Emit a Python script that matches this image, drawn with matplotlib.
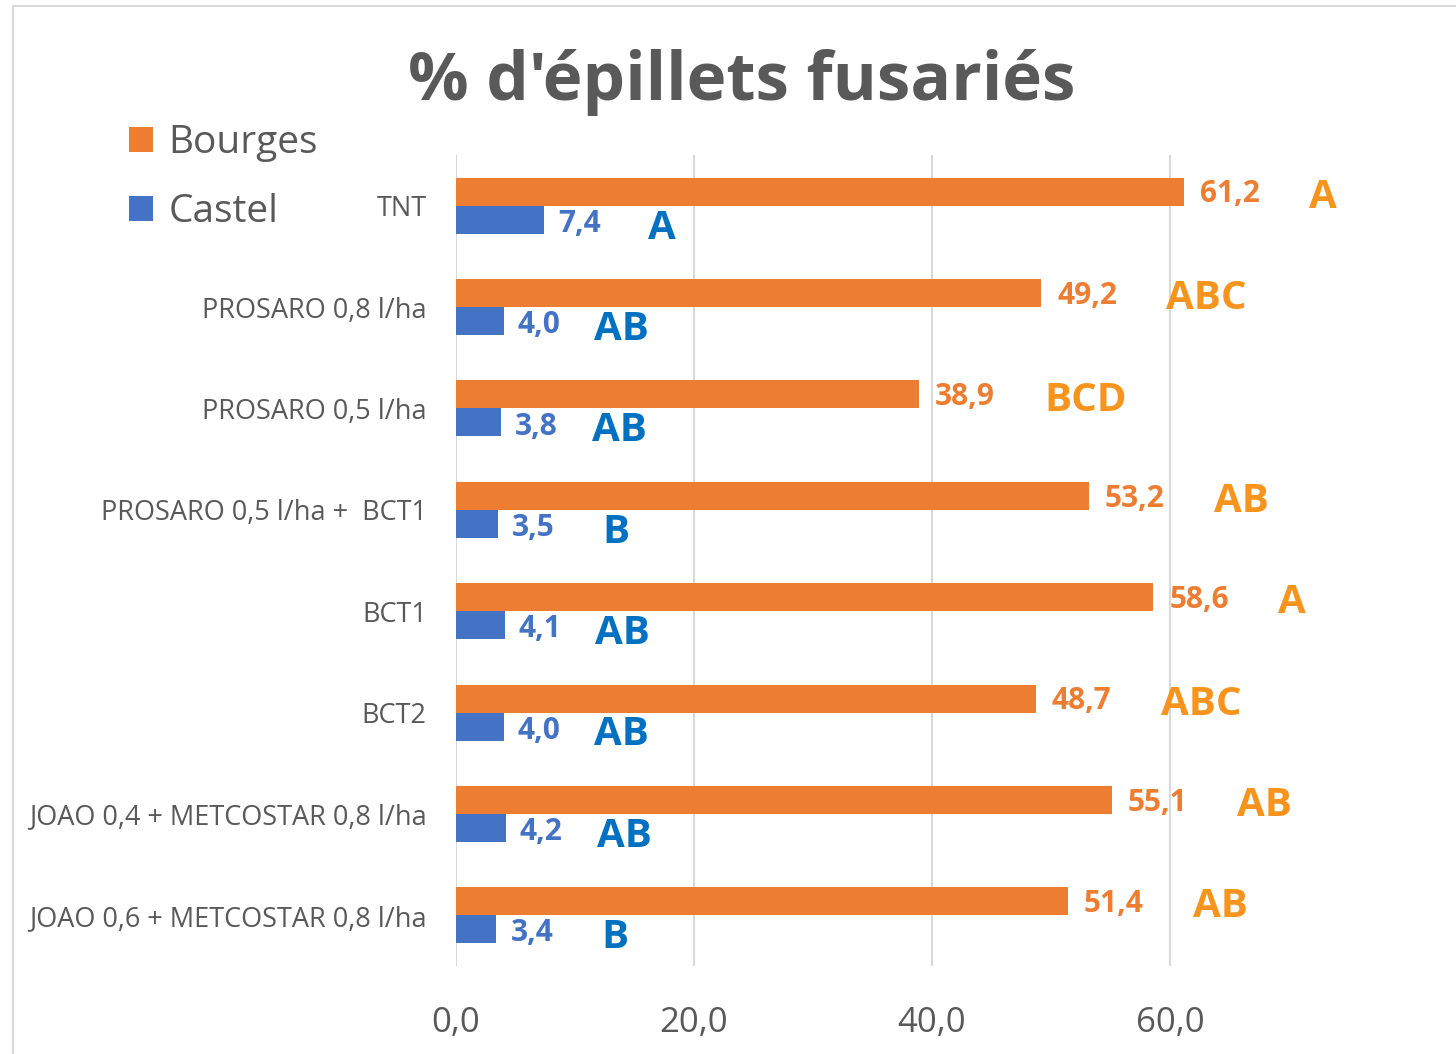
import matplotlib
matplotlib.use("Agg")
import matplotlib.pyplot as plt
from matplotlib.patches import Rectangle
import numpy as np

categories = ["TNT", "PROSARO 0,8 l/ha", "PROSARO 0,5 l/ha", "PROSARO 0,5 l/ha +  BCT1",
              "BCT1", "BCT2", "JOAO 0,4 + METCOSTAR 0,8 l/ha", "JOAO 0,6 + METCOSTAR 0,8 l/ha"]
bourges = [61.2, 49.2, 38.9, 53.2, 58.6, 48.7, 55.1, 51.4]
castel = [7.4, 4.0, 3.8, 3.5, 4.1, 4.0, 4.2, 3.4]
bourges_letters = ["A", "ABC", "BCD", "AB", "A", "ABC", "AB", "AB"]
castel_letters = ["A", "AB", "AB", "B", "AB", "AB", "AB", "B"]
xticks = [0, 20, 40, 60]

ORANGE = "#ED7D31"
BLUE = "#4472C4"
ORANGE_L = "#F7941D"
BLUE_L = "#0070C0"
GRAY = "#595959"

plt.rcParams['font.family'] = ['Open Sans', 'DejaVu Sans']

W, H = 1456, 1054
fig = plt.figure(figsize=(W / 100, H / 100), dpi=100)
ax = fig.add_axes([456 / W, 1 - 966 / H, (1408 - 456) / W, (966 - 155) / H])

y = np.arange(len(categories))
bh = 0.276
b1 = ax.barh(y - bh / 2, bourges, height=bh, color=ORANGE, label="Bourges", zorder=3)
b2 = ax.barh(y + bh / 2, castel, height=bh, color=BLUE, label="Castel", zorder=3)

ax.set_xlim(0, 80)
ax.set_ylim(len(categories) - 0.5, -0.5)
ax.set_xticks(xticks)
ax.set_xticklabels([f"{v:.1f}".replace(".", ",") for v in xticks])
ax.set_yticks(y)
ax.set_yticklabels(categories)
ax.tick_params(axis='x', length=0, pad=29, labelsize=25, labelcolor=GRAY)
ax.tick_params(axis='y', length=0, pad=21, labelsize=19.5, labelcolor=GRAY)
ax.grid(axis='x', color="#D9D9D9", lw=1.5, zorder=0)
for s in ax.spines.values():
    s.set_visible(False)

for yi, v, lt in zip(y, bourges, bourges_letters):
    ax.annotate(f"{v:.1f}".replace(".", ","), (v, yi - bh / 2), xytext=(11.5, -2),
                textcoords='offset points', ha='left', va='center',
                fontsize=21.5, fontweight='bold', color=ORANGE)
    ax.annotate(lt, (v, yi - bh / 2), xytext=(90, -4),
                textcoords='offset points', ha='left', va='center',
                fontsize=29, fontweight='bold', color=ORANGE_L)
for yi, v, lt in zip(y, castel, castel_letters):
    ax.annotate(f"{v:.1f}".replace(".", ","), (v, yi + bh / 2), xytext=(10, -3),
                textcoords='offset points', ha='left', va='center',
                fontsize=21.5, fontweight='bold', color=BLUE)
    ax.annotate(lt, (v, yi + bh / 2), xytext=(85, -6),
                textcoords='offset points', ha='center', va='center',
                fontsize=29, fontweight='bold', color=BLUE_L)

leg = ax.legend(handles=[b1, b2], loc='upper left',
                bbox_to_anchor=(129 / W, 1 - 124 / H), bbox_transform=fig.transFigure,
                frameon=False, fontsize=28, labelcolor=GRAY,
                handlelength=0.62, handleheight=0.62, handletextpad=0.4,
                labelspacing=0.8, borderaxespad=0, borderpad=0)

fig.text(742 / W, 1 - 83 / H, "% d'épillets fusariés", ha='center', va='center',
         fontsize=48.5, fontweight='bold', color=GRAY)

fig.patches.append(Rectangle((13 / W, -0.1), 1.2, 1.1 - 6 / H, transform=fig.transFigure,
                             fill=False, edgecolor="#D9D9D9", lw=1.5, zorder=0))

fig.savefig("out.png", dpi=100)
